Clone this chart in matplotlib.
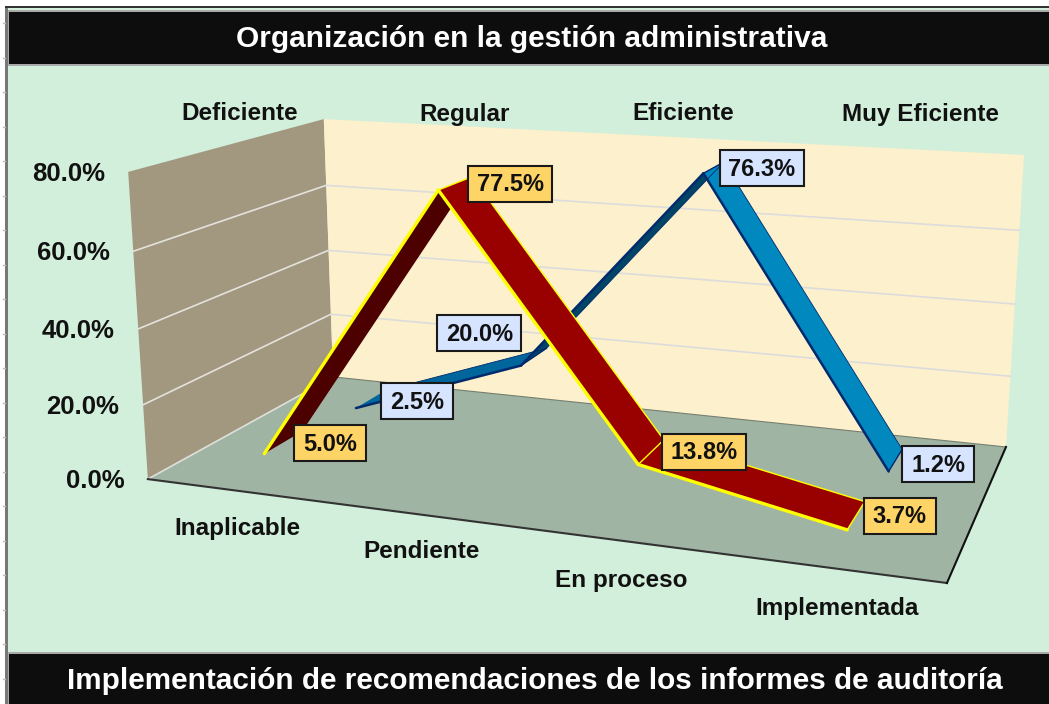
import numpy as np
import matplotlib
matplotlib.use('Agg')
import matplotlib.pyplot as plt
from matplotlib.patches import Polygon, Rectangle

plt.rcParams['font.family'] = ['Liberation Sans', 'DejaVu Sans']

title = 'Organización en la gestión administrativa'
footer = 'Implementación de recomendaciones de los informes de auditoría'
categories = ['Inaplicable', 'Pendiente', 'En proceso', 'Implementada']
columns = ['Deficiente', 'Regular', 'Eficiente', 'Muy Eficiente']
y_ticks = [0, 20, 40, 60, 80]
red_values = [5.0, 77.5, 13.8, 3.7]
blue_values = [2.5, 20.0, 76.3, 1.2]

MINT = '#d2efdb'
BLACK = '#0d0d0d'
WALL_BACK = '#fdf0cc'
WALL_LEFT = '#a2977f'
FLOOR = '#a0b4a4'

# 3d box corners (category, depth, percent) and where they sit on the picture
world = [(0, 0, 0), (4, 0, 0), (4, 1, 0), (0, 1, 0), (0, 0, 80), (0, 1, 80), (4, 1, 80)]
screen = [(148, 479), (947, 583), (1006, 447), (333, 377), (128, 172), (324, 119), (1024, 155)]

A = []
b = []
for (x, y, z), (u, v) in zip(world, screen):
    A.append([x, y, z, 1, 0, 0, 0, 0, -u*x, -u*y, -u*z])
    A.append([0, 0, 0, 0, x, y, z, 1, -v*x, -v*y, -v*z])
    b += [u, v]
P = np.linalg.lstsq(np.array(A, float), np.array(b, float), rcond=None)[0]
P = np.append(P, 1).reshape(3, 4)


def project(x, y, z):
    u, v, w = P @ np.array([x, y, z, 1.0])
    return (u/w, v/w)


fig = plt.figure(figsize=(10.49, 7.04), dpi=100)
ax = fig.add_axes([0, 0, 1, 1])
ax.set_xlim(0, 1049)
ax.set_ylim(704, 0)
ax.axis('off')

# frame and title bars
ax.add_patch(Rectangle((5, 6), 1044, 698, fc=MINT, ec='none', zorder=0))
ax.add_patch(Rectangle((5, 6), 2.5, 698, fc='#777777', ec='none', zorder=1))
ax.add_patch(Rectangle((5, 6), 1044, 2, fc='#333333', ec='none', zorder=1))
ax.add_patch(Rectangle((8, 10), 1041, 56, fc='#aaaaaa', ec='none', zorder=1))
ax.add_patch(Rectangle((9, 12), 1040, 52, fc=BLACK, ec='none', zorder=1))
ax.add_patch(Rectangle((8, 652), 1041, 52, fc='#aaaaaa', ec='none', zorder=1))
ax.add_patch(Rectangle((9, 654), 1040, 50, fc=BLACK, ec='none', zorder=1))
for y in np.arange(23, 704, 34.5):
    ax.plot([3, 5], [y, y], color='#bbbbbb', lw=1, zorder=1)
ax.text(531.5, 39, title, color='white', fontsize=21.5, weight='bold', ha='center', va='center', zorder=2)
ax.text(535, 681, footer, color='white', fontsize=21.4, weight='bold', ha='center', va='center', zorder=2)

# walls and floor
corners = lambda pts: [project(*p) for p in pts]
ax.add_patch(Polygon(corners([(0, 0, 0), (0, 1, 0), (0, 1, 80), (0, 0, 80)]), fc=WALL_LEFT, ec='none', zorder=2))
ax.add_patch(Polygon(corners([(0, 1, 0), (4, 1, 0), (4, 1, 80), (0, 1, 80)]), fc=WALL_BACK, ec='none', zorder=2))
ax.add_patch(Polygon(corners([(0, 0, 0), (4, 0, 0), (4, 1, 0), (0, 1, 0)]), fc=FLOOR, ec='none', zorder=2))

for t in y_ticks[1:-1]:
    pts = corners([(0, 0, t), (0, 1, t)])
    ax.plot(*zip(*pts), color='#e4e2dc', lw=1.2, zorder=3)
    pts = corners([(0, 1, t), (4, 1, t)])
    ax.plot(*zip(*pts), color='#dcdcdc', lw=1.2, zorder=3)
ax.plot(*zip(*corners([(0, 0, 0), (0, 1, 0)])), color='#dfe0da', lw=1.2, zorder=3)
ax.plot(*zip(*corners([(0, 1, 0), (4, 1, 0)])), color='#77806f', lw=0.8, zorder=3)
ax.plot(*zip(*corners([(0, 0, 0), (4, 0, 0)])), color='#333333', lw=1.5, zorder=3)
ax.plot(*zip(*corners([(4, 0, 0), (4, 1, 0)])), color='#111111', lw=1.5, zorder=3)


def ribbon(values, d0, d1, fills, edge, near_lw, far_lw, zorder):
    xs = [0.5, 1.5, 2.5, 3.5]
    near = [project(x, d0, v) for x, v in zip(xs, values)]
    far = [project(x, d1, v) for x, v in zip(xs, values)]
    for i in range(len(values) - 1):
        ax.add_patch(Polygon([near[i], near[i+1], far[i+1], far[i]], fc=fills[i], ec='none', zorder=zorder))
        ax.plot(*zip(near[i], near[i+1]), color=edge, lw=near_lw, solid_capstyle='round', zorder=zorder+0.1)
        if far_lw[i] > 0:
            ax.plot(*zip(far[i], far[i+1]), color=edge, lw=far_lw[i], zorder=zorder+0.1)
        ax.plot(*zip(near[i+1], far[i+1]), color=edge, lw=1.0, zorder=zorder+0.1)
    return near, far


blue_near, blue_far = ribbon(blue_values, 0.66, 0.85, ['#00669c', '#004466', '#0088bf'],
                             '#002a6e', 1.8, [0.6, 0.6, 0.6], 4)
red_near, red_far = ribbon(red_values, 0.15, 0.35, ['#4d0000', '#990000', '#990000'],
                           '#ffff00', 2.4, [0, 1.0, 1.0], 5)


def data_labels(values, anchors, offsets, fill):
    for v, pt, off in zip(values, anchors, offsets):
        cx, cy = pt[0] + off[0], pt[1] + off[1]
        w = 84 if v >= 10 else 72
        ax.add_patch(Rectangle((cx - w/2, cy - 18), w, 36, fc=fill, ec='#1a1a1a', lw=1.5, zorder=8))
        ax.text(cx, cy + 1, f'{v:.1f}%', fontsize=17, weight='bold', color='#111111',
                ha='center', va='center', zorder=9)


data_labels(red_values, red_far, [(28, 12), (38, 7), (40, 12), (35, 14)], '#ffd466')
data_labels(blue_values, blue_far, [(31, 11), (-67, -15), (38, 6), (36, 15)], '#d6e4ff')

# axis text
y_right = [125, 119, 115, 110, 105]
for t, xr in zip(y_ticks, y_right):
    ax.text(xr, project(0, 0, t)[1] + 2, f'{t:.1f}%', fontsize=18.5, weight='bold', color='#111111',
            ha='right', va='center', zorder=6)
for c, x, y in zip(categories, [237, 422, 621, 837], [529, 551, 580, 608]):
    ax.text(x, y, c, fontsize=17.5, weight='bold', color='#111111', ha='center', va='center', zorder=6)
for c, x in zip(columns, [240, 465, 683, 921]):
    ax.text(x, 114, c, fontsize=17.5, weight='bold', color='#111111', ha='center', va='center', zorder=6)

fig.savefig('out.png', dpi=100)
